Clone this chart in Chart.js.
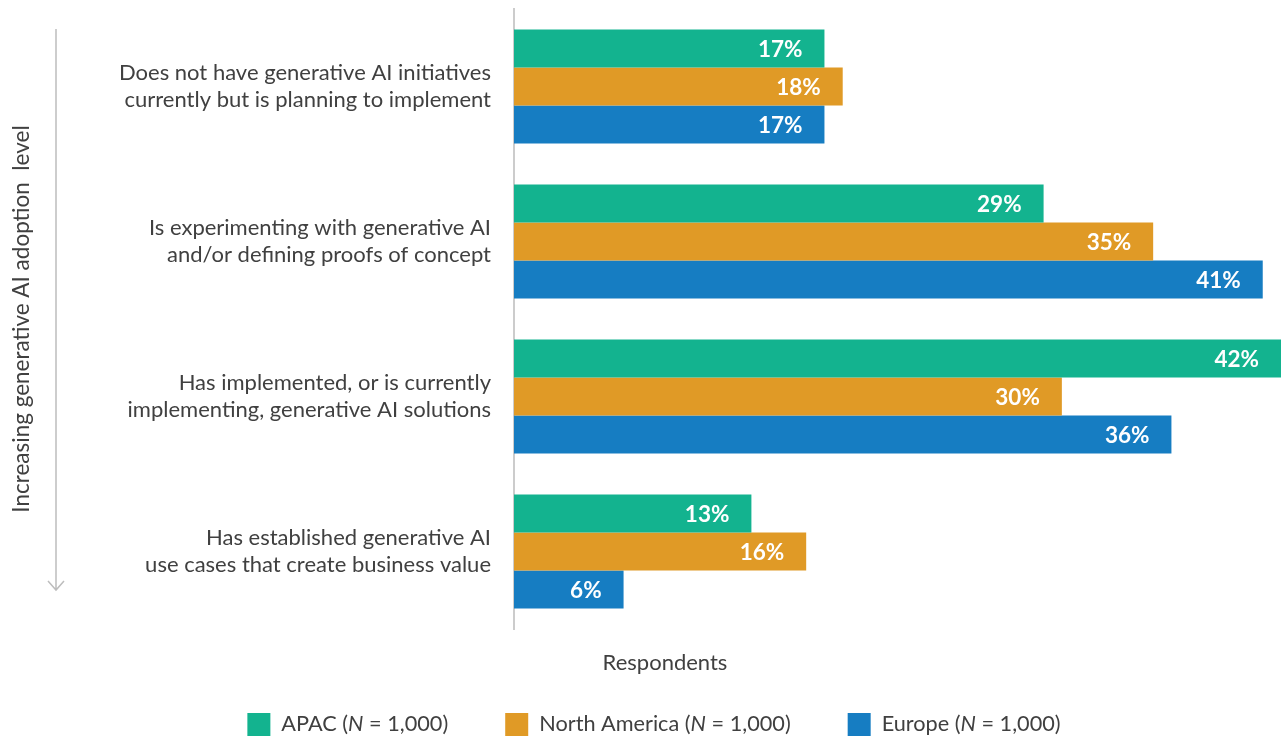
<!DOCTYPE html>
<html>
<head>
<meta charset="utf-8">
<script src="https://cdn.jsdelivr.net/npm/chart.js@4"></script>
<style>
  body { margin: 0; background: #fff; }
  canvas { display: block; }
</style>
</head>
<body>
<canvas id="adoptionChart" width="1283" height="739"></canvas>
<script>
  // Adoption stages, top to bottom
  const stages = [
    ['Does not have generative AI initiatives', 'currently but is planning to implement'],
    ['Is experimenting with generative AI', 'and/or defining proofs of concept'],
    ['Has implemented, or is currently', 'implementing, generative AI solutions'],
    ['Has established generative AI', 'use cases that create business value']
  ];
  const regions = ['APAC', 'North America', 'Europe'];
  const sampleSize = '1,000';
  const apac = [17, 29, 42, 13];
  const northAmerica = [18, 35, 30, 16];
  const europe = [17, 41, 36, 6];
  const colors = ['#13b38f', '#e09a26', '#167dc2'];

  const textColor = '#404040';
  const fontFamily = 'Lato, "Open Sans", sans-serif';
  Chart.defaults.font.family = fontFamily;

  const extras = {
    id: 'extras',
    afterDatasetsDraw(chart) {
      // value labels inside the bar ends
      const ctx = chart.ctx;
      ctx.save();
      ctx.font = 'bold 22.5px ' + fontFamily;
      ctx.fillStyle = '#fff';
      ctx.textAlign = 'right';
      ctx.textBaseline = 'middle';
      chart.data.datasets.forEach((ds, i) => {
        chart.getDatasetMeta(i).data.forEach((bar, j) => {
          ctx.fillText(ds.data[j] + '%', bar.x - 22, bar.y + 1);
        });
      });
      ctx.restore();
    },
    afterDraw(chart) {
      const ctx = chart.ctx;
      ctx.save();

      // arrow next to the y title
      ctx.strokeStyle = '#bdbdbd';
      ctx.lineWidth = 1.5;
      ctx.beginPath();
      ctx.moveTo(56, 29);
      ctx.lineTo(56, 590);
      ctx.moveTo(48, 581);
      ctx.lineTo(56, 590);
      ctx.lineTo(64, 581);
      ctx.stroke();

      ctx.fillStyle = textColor;
      ctx.textBaseline = 'middle';
      ctx.font = '22px ' + fontFamily;
      ctx.textAlign = 'center';
      ctx.fillText('Respondents', 665, 663);

      // legend with italic N
      ctx.textAlign = 'left';
      const normal = '21.7px ' + fontFamily;
      const italic = 'italic 21.7px ' + fontFamily;
      const items = chart.data.datasets.map((ds, i) => {
        const parts = [[regions[i] + ' (', normal], ['N', italic], [' = ' + sampleSize + ')', normal]];
        let w = 0;
        parts.forEach(p => { ctx.font = p[1]; w += ctx.measureText(p[0]).width; });
        return { parts, w: 23 + 11 + w, color: ds.backgroundColor };
      });
      const gap = 57;
      const total = items.reduce((s, it) => s + it.w, 0) + gap * (items.length - 1);
      let x = 654 - total / 2;
      const cy = 724.5;
      items.forEach(it => {
        ctx.fillStyle = it.color;
        ctx.fillRect(x, cy - 11.5, 23, 23);
        let tx = x + 34;
        ctx.fillStyle = textColor;
        it.parts.forEach(p => {
          ctx.font = p[1];
          ctx.fillText(p[0], tx, cy);
          tx += ctx.measureText(p[0]).width;
        });
        x += it.w + gap;
      });
      ctx.restore();
    }
  };

  const ctx = document.getElementById('adoptionChart').getContext('2d');
  new Chart(ctx, {
    type: 'bar',
    data: {
      labels: stages,
      datasets: [
        { label: regions[0], data: apac, backgroundColor: colors[0] },
        { label: regions[1], data: northAmerica, backgroundColor: colors[1] },
        { label: regions[2], data: europe, backgroundColor: colors[2] }
      ]
    },
    options: {
      indexAxis: 'y',
      responsive: false,
      animation: false,
      categoryPercentage: 0.736,
      barPercentage: 1,
      layout: { padding: { top: 9, bottom: 110, right: 2, left: 0 } },
      plugins: {
        legend: { display: false },
        tooltip: { enabled: false }
      },
      scales: {
        x: {
          min: 0,
          max: 42,
          ticks: { display: false },
          grid: { display: false, drawTicks: false },
          border: { display: false }
        },
        y: {
          afterFit(scale) {
            scale.width = 514;
            scale.paddingTop = 0;
            scale.paddingBottom = 0;
          },
          grid: { display: false, drawTicks: false },
          border: { display: true, color: '#cccccc', width: 2 },
          ticks: {
            color: textColor,
            font: { size: 22, lineHeight: 1.24 },
            padding: 23,
            autoSkip: false
          },
          title: {
            display: true,
            text: 'Increasing generative AI adoption  level',
            color: textColor,
            font: { size: 22.5 },
            padding: { top: 8, bottom: 0 }
          }
        }
      }
    },
    plugins: [extras]
  });
</script>
</body>
</html>
